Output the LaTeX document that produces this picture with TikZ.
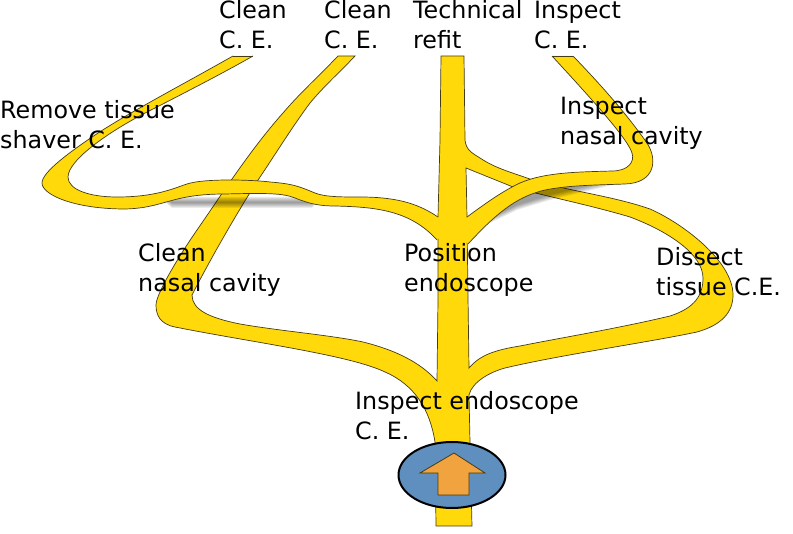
\documentclass[tikz,border=0pt]{standalone}
\usepackage{fontspec}
\usetikzlibrary{shapes.geometric}
\setmainfont{DejaVu Sans}
\definecolor{veinyellow}{RGB}{255,217,10}
\definecolor{veinline}{RGB}{70,60,20}
\definecolor{discblue}{RGB}{95,143,191}
\definecolor{arroworange}{RGB}{240,163,62}
\def\eA{(233,56) .. controls (180,86) and (130,112) .. (95,135) .. controls (70,152) and (42,172) .. (42,183) .. controls (42,195) and (75,209) .. (125,209) .. controls (165,208) and (170,194) .. (225,194) .. controls (265,193) and (283,193) .. (295,198) .. controls (310,204) and (320,206) .. (335,206) .. controls (375,207) and (410,210) .. (437,240)}
\def\eB{-- (438,217) .. controls (420,205) and (400,197) .. (360,197) .. controls (340,197) and (325,197) .. (315,193) .. controls (300,187) and (295,184) .. (270,182) .. controls (255,180) and (205,178) .. (187,184) .. controls (172,189) and (155,197) .. (117,197) .. controls (90,197) and (68,190) .. (68,177) .. controls (68,160) and (110,130) .. (157,107) .. controls (190,90) and (225,72) .. (253,56)}
\def\eC{(573,56) .. controls (600,84) and (625,112) .. (647,143) .. controls (658,160) and (655,183) .. (625,184) .. controls (600,185) and (570,185) .. (545,190) .. controls (515,197) and (495,215) .. (468,244)}
\def\eD{-- (467,217) .. controls (490,200) and (505,190) .. (520,183) .. controls (545,172) and (580,172) .. (612,171) .. controls (628,171) and (635,162) .. (632,153) .. controls (628,140) and (600,108) .. (552,56)}
\tikzset{
  veinfill/.style={fill=veinyellow},
  veinedge/.style={draw=veinline,line width=.7pt},
  label/.style={inner sep=0pt,anchor=base west,font=\fontsize{23.8}{30}\selectfont,text=black}
}
\begin{document}
\begin{tikzpicture}[x=1pt,y=-1pt]
\useasboundingbox (0,0) rectangle (793,534);
% main tree
\path[veinfill,veinedge,even odd rule]
  (436,526) -- (435,442)
  .. controls (430,410) and (415,385) .. (385,372)
  .. controls (350,355) and (250,342) .. (175,327)
  .. controls (160,324) and (156,315) .. (156,305)
  .. controls (156,295) and (175,262) .. (197,230)
  .. controls (220,197) and (250,150) .. (283,113)
  .. controls (300,93) and (320,75) .. (338,56)
  -- (355,56)
  .. controls (340,72) and (325,85) .. (310,103)
  .. controls (290,130) and (275,155) .. (258,180)
  .. controls (245,200) and (215,250) .. (192,295)
  .. controls (192,310) and (210,318) .. (240,324)
  .. controls (280,331) and (330,335) .. (363,342)
  .. controls (395,350) and (420,362) .. (437,381)
  -- (438,300) -- (438,217) -- (440,140) -- (441,56) -- (464,56) -- (465,140)
  .. controls (466,150) and (472,153) .. (480,158)
  .. controls (495,168) and (510,172) .. (527,178)
  .. controls (560,190) and (610,195) .. (650,209)
  .. controls (680,222) and (733,260) .. (733,295)
  .. controls (733,312) and (722,325) .. (697,332)
  .. controls (650,342) and (560,355) .. (505,368)
  .. controls (490,372) and (472,382) .. (469,395)
  -- (470,442) -- (472,526) -- cycle
  (466,168) -- (513,187)
  .. controls (540,195) and (590,205) .. (630,217)
  .. controls (670,232) and (703,255) .. (703,278)
  .. controls (703,295) and (695,308) .. (670,316)
  .. controls (620,328) and (560,338) .. (520,346)
  .. controls (495,350) and (480,355) .. (469,368)
  -- (468,297) -- (467,217) -- cycle;
% shadows
\foreach \d in {0,1,2,3,4,5}{
  \fill[black,opacity=.08,yshift=-\d pt] (165,197) -- (318,197) -- (312,203) -- (172,203) -- cycle;
  \fill[black,opacity=.08,yshift=-\d pt] (612,180) -- (600,183) -- (550,195) -- (517,205) -- (490,218) -- (500,195) -- (560,175) -- cycle;
}
% band to Remove tissue
\fill[veinfill] \eA -- (450,228) \eB -- cycle;
\draw[veinedge] \eA;
\draw[veinedge] (438,217) \eB;
\draw[veinedge] (233,56) -- (253,56);
% band to Inspect
\fill[veinfill] \eC -- (455,230) \eD -- cycle;
\draw[veinedge] \eC;
\draw[veinedge] (467,217) \eD;
\draw[veinedge] (552,56) -- (573,56);
% disc and arrow
\node[draw=black,line width=2pt,fill=discblue,ellipse,minimum width=107pt,minimum height=66pt,inner sep=0pt] (disc) at (452,475) {};
\draw[fill=arroworange,draw=veinline,line width=.8pt] (454,453) -- (485,473) -- (469,473) -- (469,495) -- (438,495) -- (438,473) -- (420,473) -- cycle;
% labels
\node[label] (l1a) at (219,19) {Clean};
\node[label] (l1b) at (219,49) {C. E.};
\node[label] (l2a) at (324,19) {Clean};
\node[label] (l2b) at (324,49) {C. E.};
\node[label] (l3a) at (413,19) {Technical};
\node[label] (l3b) at (413,49) {refit};
\node[label] (l4a) at (534,19) {Inspect};
\node[label] (l4b) at (534,49) {C. E.};
\node[label] (l5a) at (0,119) {Remove tissue};
\node[label] (l5b) at (0,149) {shaver C. E.};
\node[label] (l6a) at (560,115) {Inspect};
\node[label] (l6b) at (560,145) {nasal cavity};
\node[label] (l7a) at (138,262) {Clean};
\node[label] (l7b) at (138,292) {nasal cavity};
\node[label] (l8a) at (404,262) {Position};
\node[label] (l8b) at (404,292) {endoscope};
\node[label] (l9a) at (656,266) {Dissect};
\node[label] (l9b) at (656,296) {tissue C.E.};
\node[label] (l10a) at (355,410) {Inspect endoscope};
\node[label] (l10b) at (355,440) {C. E.};
\end{tikzpicture}
\end{document}
